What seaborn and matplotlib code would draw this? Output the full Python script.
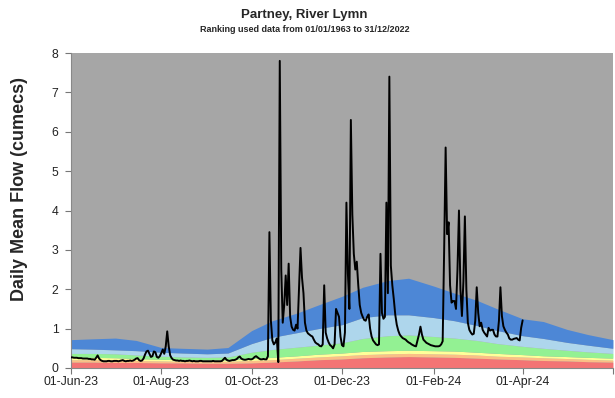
import matplotlib
matplotlib.use("Agg")
import matplotlib.pyplot as plt
import numpy as np
import pandas as pd
import seaborn as sns

# ---------------------------------------------------------------- data
title = "Partney, River Lymn"
subtitle = "Ranking used data from 01/01/1963 to 31/12/2022"
ylabel = "Daily Mean Flow (cumecs)"

flow_start = "2023-06-01"
flow = [
    # June 2023
    0.27, 0.27, 0.26, 0.26, 0.26, 0.25, 0.25, 0.25, 0.24, 0.24,
    0.24, 0.24, 0.23, 0.23, 0.22, 0.22, 0.21, 0.26, 0.32, 0.24,
    0.20, 0.18, 0.17, 0.17, 0.17, 0.18, 0.18, 0.17, 0.17, 0.18,
    # July 2023
    0.18, 0.18, 0.17, 0.18, 0.19, 0.20, 0.18, 0.17, 0.18, 0.18,
    0.19, 0.18, 0.19, 0.21, 0.24, 0.25, 0.20, 0.18, 0.19, 0.24,
    0.34, 0.42, 0.44, 0.36, 0.28, 0.30, 0.42, 0.40, 0.28, 0.26,
    0.30,
    # August 2023
    0.38, 0.47, 0.36, 0.55, 0.93, 0.55, 0.32, 0.25, 0.21, 0.20,
    0.19, 0.19, 0.18, 0.19, 0.18, 0.18, 0.17, 0.18, 0.18, 0.19,
    0.18, 0.17, 0.18, 0.17, 0.17, 0.17, 0.18, 0.18, 0.17, 0.17,
    0.17,
    # September 2023
    0.17, 0.17, 0.17, 0.17, 0.18, 0.17, 0.17, 0.17, 0.17, 0.17,
    0.18, 0.22, 0.26, 0.21, 0.19, 0.18, 0.19, 0.20, 0.20, 0.21,
    0.23, 0.27, 0.29, 0.24, 0.22, 0.21, 0.21, 0.22, 0.23, 0.22,
    # October 2023
    0.22, 0.24, 0.28, 0.30, 0.27, 0.24, 0.22, 0.22, 0.23, 0.22,
    0.22, 0.30, 3.45, 1.20, 0.70, 0.60, 0.65, 0.75, 0.15, 7.80,
    2.50, 1.15, 1.60, 2.35, 1.60, 2.65, 1.30, 1.05, 0.97, 0.95,
    1.10,
    # November 2023
    1.00, 2.00, 3.05, 2.30, 1.90, 1.15, 0.95, 0.88, 0.85, 0.82,
    0.80, 0.72, 0.65, 0.62, 0.60, 0.56, 0.55, 0.60, 2.10, 0.90,
    0.75, 0.65, 0.58, 0.55, 0.50, 0.60, 1.50, 1.40, 1.30, 0.80,
    # December 2023
    0.58, 0.55, 0.90, 4.20, 2.40, 1.50, 6.30, 3.90, 2.90, 2.50,
    2.70, 2.10, 1.60, 1.40, 1.30, 1.22, 1.20, 1.30, 1.36, 1.00,
    0.80, 0.70, 0.65, 0.60, 0.58, 0.60, 2.90, 1.40, 1.25, 1.30,
    4.20,
    # January 2024
    1.90, 7.40, 2.60, 2.10, 1.75, 1.35, 1.10, 0.95, 0.85, 0.80,
    0.76, 0.74, 0.72, 0.68, 0.65, 0.63, 0.60, 0.58, 0.56, 0.55,
    0.70, 0.85, 1.05, 0.85, 0.72, 0.68, 0.64, 0.62, 0.60, 0.58,
    0.57,
    # February 2024
    0.56, 0.55, 0.55, 0.55, 0.56, 0.60, 0.68, 3.00, 5.60, 3.40,
    3.70, 2.10, 1.66, 1.70, 1.70, 1.50, 2.50, 4.00, 2.00, 1.32,
    2.20, 3.85, 2.00, 1.15, 0.97, 0.90, 0.85, 0.87, 1.20,
    # March 2024
    2.05, 1.40, 1.06, 1.15, 0.97, 0.90, 0.85, 0.80, 1.02, 0.95,
    0.97, 0.97, 0.85, 0.80, 0.80, 1.20, 2.05, 1.32, 1.06, 0.97,
    0.90, 0.85, 0.75, 0.72, 0.72, 0.74, 0.75, 0.76, 0.72, 0.70,
    1.02,
    # April 2024
    1.21,
]

# Long-term flow ranking bands (upper edge of each band), sampled twice a month
band_dates = [
    "2023-06-01", "2023-06-15", "2023-07-01", "2023-07-15", "2023-08-01",
    "2023-08-15", "2023-09-01", "2023-09-15", "2023-10-01", "2023-10-15",
    "2023-11-01", "2023-11-15", "2023-12-01", "2023-12-15", "2024-01-01",
    "2024-01-15", "2024-02-01", "2024-02-15", "2024-03-01", "2024-03-15",
    "2024-04-01", "2024-04-15", "2024-05-01", "2024-05-15", "2024-06-01",
]
exceptionally_low = [0.15, 0.15, 0.14, 0.14, 0.13, 0.13, 0.12, 0.12, 0.13, 0.15,
                     0.18, 0.21, 0.23, 0.26, 0.28, 0.29, 0.28, 0.27, 0.25, 0.23,
                     0.21, 0.19, 0.18, 0.16, 0.15]
notably_low = [0.21, 0.21, 0.20, 0.19, 0.18, 0.17, 0.16, 0.17, 0.19, 0.21,
               0.25, 0.28, 0.31, 0.34, 0.36, 0.37, 0.36, 0.35, 0.33, 0.30,
               0.28, 0.26, 0.24, 0.22, 0.20]
below_normal = [0.27, 0.27, 0.26, 0.24, 0.22, 0.21, 0.20, 0.21, 0.24, 0.27,
                0.31, 0.35, 0.38, 0.42, 0.44, 0.45, 0.44, 0.43, 0.40, 0.37,
                0.34, 0.31, 0.29, 0.27, 0.25]
normal = [0.37, 0.37, 0.36, 0.33, 0.30, 0.28, 0.27, 0.28, 0.40, 0.47,
          0.53, 0.58, 0.64, 0.75, 0.82, 0.84, 0.80, 0.76, 0.70, 0.62,
          0.55, 0.50, 0.45, 0.41, 0.37]
above_normal = [0.49, 0.48, 0.46, 0.44, 0.40, 0.38, 0.36, 0.38, 0.62, 0.78,
                0.90, 1.00, 1.10, 1.28, 1.35, 1.35, 1.28, 1.20, 1.08, 0.95,
                0.82, 0.75, 0.65, 0.58, 0.50]
notably_high = [0.72, 0.74, 0.76, 0.70, 0.52, 0.50, 0.48, 0.52, 0.95, 1.20,
                1.40, 1.60, 1.82, 2.05, 2.22, 2.28, 2.08, 1.90, 1.72, 1.50,
                1.25, 1.18, 0.98, 0.85, 0.72]

band_colors = ["#F37474", "#FBBF86", "#FFFF99", "#93F193", "#AED6EC", "#4D87D6"]
sky_color = "#A6A6A6"

yticks = [0, 1, 2, 3, 4, 5, 6, 7, 8]
xticks = ["2023-06-01", "2023-08-01", "2023-10-01", "2023-12-01",
          "2024-02-01", "2024-04-01", "2024-06-01"]

# ---------------------------------------------------------------- figure
sns.set_style("ticks")
plt.rcParams["font.family"] = ["Liberation Sans", "DejaVu Sans"]

fig = plt.figure(figsize=(6.15, 3.98), dpi=100)
ax = fig.add_axes([0.1154, 0.0754, 0.8813, 0.7914])
ax.set_facecolor(sky_color)

bd = pd.to_datetime(band_dates)
edges = [np.zeros(len(bd))] + [np.array(v) for v in
         (exceptionally_low, notably_low, below_normal, normal,
          above_normal, notably_high)]
for lo, hi, col in zip(edges[:-1], edges[1:], band_colors):
    ax.fill_between(bd, lo, hi, color=col, linewidth=0, zorder=1)

df = pd.DataFrame({
    "date": pd.date_range(flow_start, periods=len(flow), freq="D"),
    "flow": flow,
})
sns.lineplot(data=df, x="date", y="flow", ax=ax, color="black",
             linewidth=1.4, zorder=3)

ax.set_xlim(pd.Timestamp("2023-06-01"), pd.Timestamp("2024-06-01"))
ax.set_ylim(0, 8)
ax.set_yticks(yticks)
ax.set_xticks(pd.to_datetime(xticks))
ax.set_xticklabels([pd.Timestamp(t).strftime("%d-%b-%y") for t in xticks[:-1]] + [""])
ax.tick_params(axis="both", labelsize=8.8, length=4, width=0.8,
               color="#777777", labelcolor="#222222", pad=2)
ax.tick_params(axis="y", pad=5)
ax.set_xlabel("")
ax.set_ylabel(ylabel, fontsize=13, fontweight="bold")
ax.yaxis.set_label_coords(-0.079, 0.567)

for s in ("top", "right"):
    ax.spines[s].set_visible(False)
for s in ("left", "bottom"):
    ax.spines[s].set_color("#888888")
    ax.spines[s].set_linewidth(0.8)

fig.text(0.495, 0.962, title, ha="center", va="center",
         fontsize=9.5, fontweight="bold")
fig.text(0.495, 0.927, subtitle, ha="center", va="center",
         fontsize=6.5, fontweight="bold")

fig.savefig("out.png", dpi=100)
